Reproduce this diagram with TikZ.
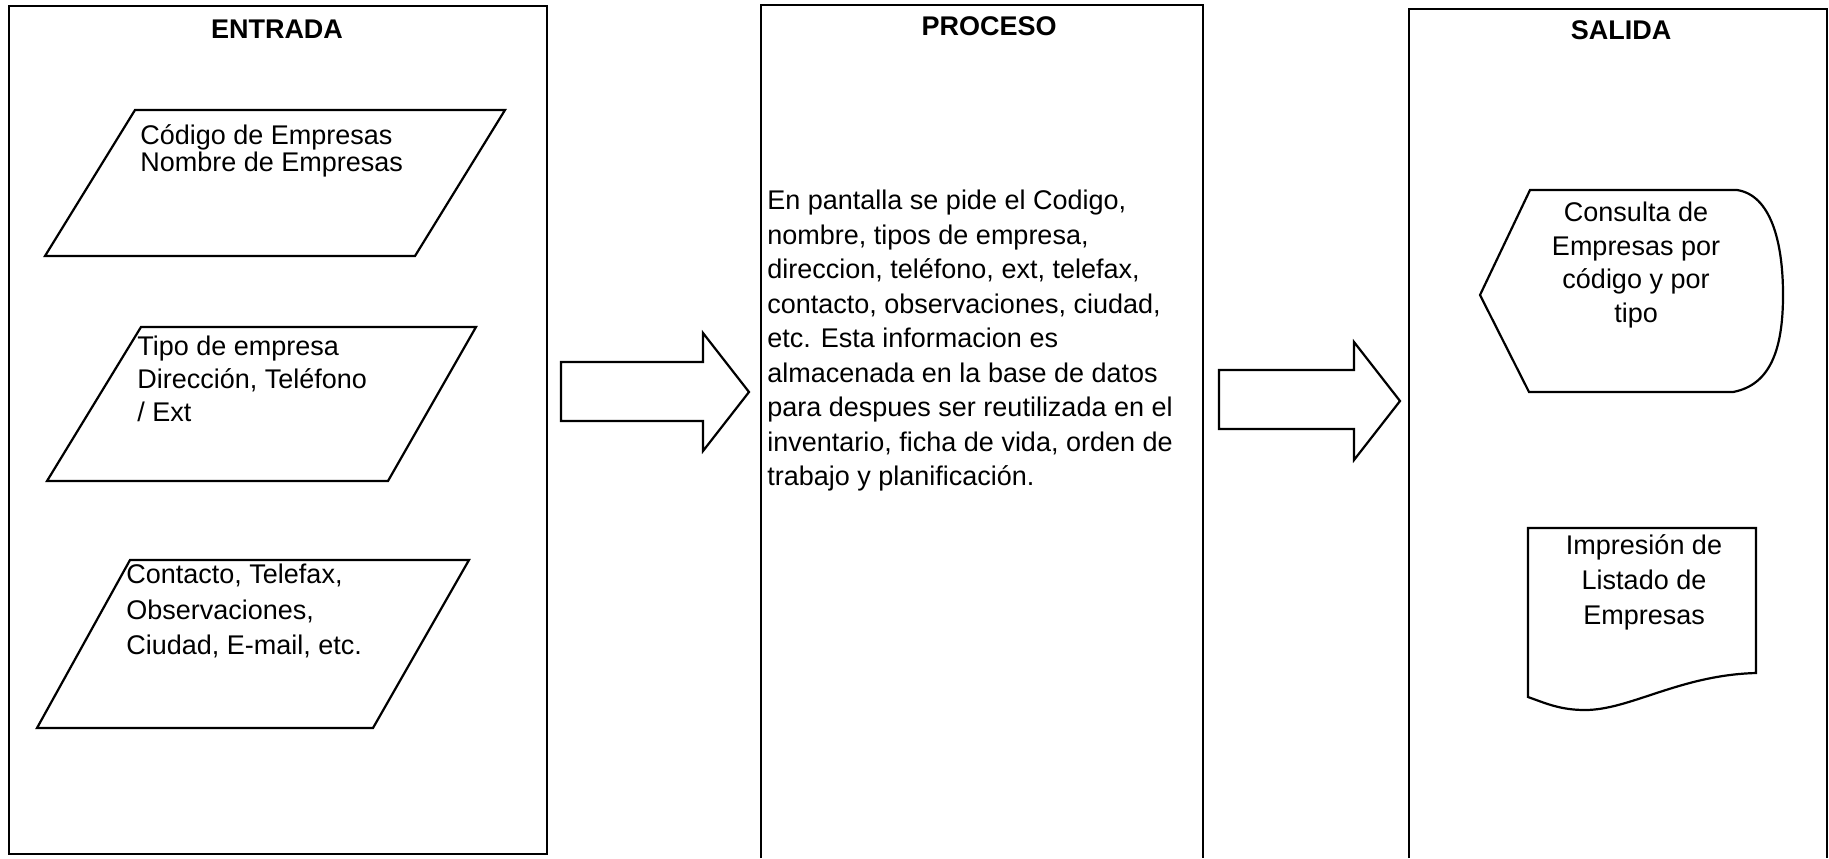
\documentclass[tikz,border=0pt]{standalone}
\usepackage{fontspec}
\setmainfont{Liberation Sans}
\usetikzlibrary{positioning}

\begin{document}
\begin{tikzpicture}[x=0.5pt, y=-0.5pt,
    marco/.style={line width=1.1pt},
    flecha/.style={line width=1.1pt, line join=miter},
    titulo/.style={anchor=base, inner sep=0pt, font=\fontsize{13.5}{16}\selectfont\bfseries},
    texto/.style={anchor=north west, inner sep=0pt, align=left,
                  font=\fontsize{13.5}{#1}\selectfont},
    centro/.style={anchor=north, inner sep=0pt, align=center,
                   font=\fontsize{13.5}{#1}\selectfont}
]
    \useasboundingbox (0,0) rectangle (1829,858);

    % Columns
    \draw[marco] (9,6) rectangle (547,854);
    \draw[marco] (761,858) -- (761,5) -- (1203,5) -- (1203,858);
    \draw[marco] (1409,858) -- (1409,9) -- (1827,9) -- (1827,858);

    % Column titles
    \node[titulo] (entrada) at (277,38) {ENTRADA};
    \node[titulo] (proceso) at (989,35) {PROCESO};
    \node[titulo] (salida) at (1621,39) {SALIDA};

    % Input data
    \draw[marco] (135,110) -- (505,110) -- (415,256) -- (45,256) -- cycle;
    \node[texto=13.5] (dat1) at (140,124) {Código de Empresas\\Nombre de Empresas};

    \draw[marco] (141,327) -- (476,327) -- (388,481) -- (47,481) -- cycle;
    \node[texto=16.5] (dat2) at (137,336) {Tipo de empresa\\Dirección, Teléfono\\/ Ext};

    \draw[marco] (130,560) -- (469,560) -- (373,728) -- (37,728) -- cycle;
    \node[texto=17.75] (dat3) at (126,564) {Contacto, Telefax,\\Observaciones,\\Ciudad, E-mail, etc.};

    % Big arrows
    \draw[flecha] (561,362) -- (703,362) -- (703,333) -- (749,392) -- (703,451)
        -- (703,421) -- (561,421) -- cycle;
    \draw[flecha] (1219,370) -- (1354,370) -- (1354,342) -- (1400,401) -- (1354,460)
        -- (1354,429) -- (1219,429) -- cycle;

    % Process text
    \node[texto=17.25] (proc) at (767,190) {En pantalla se pide el Codigo,\\
        nombre, tipos de empresa,\\direccion, teléfono, ext, telefax,\\
        contacto, observaciones, ciudad,\\etc. Esta informacion es\\
        almacenada en la base de datos\\para despues ser reutilizada en el\\
        inventario, ficha de vida, orden de\\trabajo y planificación.};

    % Display output
    \draw[marco] (1480,295) -- (1530,190) -- (1737,190)
        .. controls (1770,195) and (1783,240) .. (1783,295)
        .. controls (1783,350) and (1770,385) .. (1733,392) -- (1529,392) -- cycle;
    \node[centro=16.75] (cons) at (1636,202) {Consulta de\\Empresas por\\código y por\\tipo};

    % Printed output
    \draw[marco] (1528,528) -- (1756,528) -- (1756,673)
        .. controls (1680,675) and (1630,710) .. (1585,710)
        .. controls (1560,710) and (1545,703) .. (1528,697) -- cycle;
    \node[centro=17.5] (impr) at (1644,534) {Impresión de\\Listado de\\Empresas};
\end{tikzpicture}
\end{document}
